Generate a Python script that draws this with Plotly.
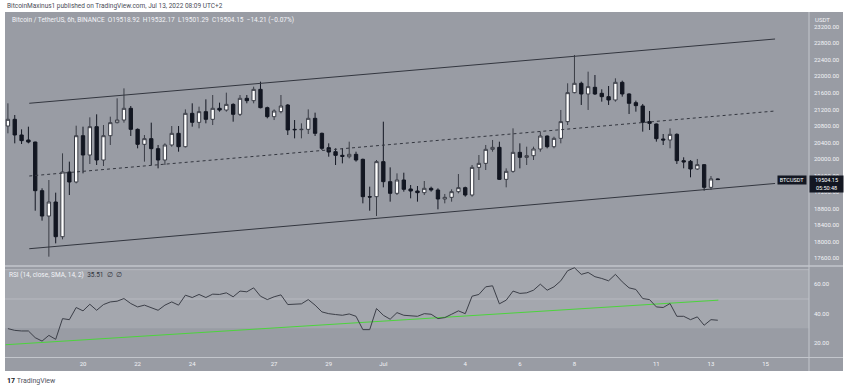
import plotly.graph_objects as go
import pandas as pd

# ---------------- data ----------------
times = pd.date_range("2022-06-17 06:00", periods=105, freq="6h")

opens = [20799, 20961, 20582, 20461, 20412, 19235, 18622, 18961, 18122, 19687,
         19445, 20565, 20098, 20783, 19977, 20565, 20880, 20944, 21227, 20719,
         20356, 20493, 20251, 19977, 20340, 20622, 20299, 21106, 20888, 21146,
         20961, 21227, 21186, 21323, 21082, 21469, 21412, 21686, 21243, 21025,
         21146, 21307, 20719, 20710, 20719, 20985, 20622, 20275, 20178, 20090,
         20057, 20114, 19993, 19090, 19090, 19937, 19453, 19171, 19493, 19276,
         19227, 19187, 19292, 19251, 19034, 19074, 19211, 19308, 19130, 19799,
         19896, 20235, 20283, 19509, 19703, 20162, 20041, 20081, 20243, 20557,
         20299, 20501, 20905, 21606, 21832, 21574, 21735, 21590, 21509, 21429,
         21856, 21574, 21364, 21284, 20905, 20848, 20485, 20461, 20598, 19961,
         19945, 19760, 19864, 19316, 19518.92]
highs = [21348, 21065, 20719, 20783, 20420, 19292, 19493, 19187, 20138, 19937,
         20807, 20783, 21009, 21082, 20823, 21025, 21469, 21710, 21283, 20740,
         20581, 20880, 20340, 20380, 20799, 20799, 21202, 21348, 21267, 21444,
         21549, 21364, 21606, 21348, 21549, 21549, 21751, 21872, 21267, 21202,
         21549, 21330, 20944, 20864, 21202, 21122, 20640, 20380, 20259, 20259,
         20420, 20178, 20010, 19332, 19977, 20904, 19799, 19654, 19670, 19372,
         19348, 19469, 19332, 19292, 19155, 19268, 19638, 19332, 19856, 20098,
         20340, 20461, 20420, 19775, 20743, 20380, 20299, 20299, 20662, 20570,
         20541, 21187, 21832, 22517, 21872, 22114, 22033, 21687, 21767, 21953,
         21896, 21590, 21413, 21332, 21163, 20860, 20606, 20743, 20622, 20042,
         19977, 20002, 19875, 19590, 19532.17]
lows = [20622, 20380, 20364, 20380, 18751, 18510, 17639, 17961, 18058, 19130,
        19412, 19654, 19880, 19856, 19832, 20340, 20864, 20880, 20558, 20259,
        19937, 19856, 19775, 19856, 20299, 20178, 20280, 20783, 20743, 20864,
        20823, 21146, 21146, 20904, 21041, 21348, 21348, 21227, 20985, 20944,
        21106, 20582, 20501, 20501, 20606, 20558, 20219, 20057, 19856, 19896,
        20017, 19937, 18929, 18751, 18622, 19316, 18969, 19130, 19211, 19050,
        18969, 19130, 19211, 18784, 18929, 18969, 19171, 19090, 19090, 19493,
        19735, 20178, 19493, 19316, 19670, 19775, 19856, 19977, 20178, 20259,
        20259, 20380, 20824, 21590, 21308, 21187, 21550, 21388, 21308, 21388,
        21509, 21090, 21146, 20663, 20703, 20421, 20340, 20260, 19881, 19776,
        19558, 19735, 19236, 19252, 19501.29]
closes = [20961, 20582, 20445, 20412, 19235, 18622, 18961, 18122, 19687, 19445,
          20565, 20098, 20783, 19977, 20565, 20880, 20944, 21227, 20719, 20356,
          20493, 20251, 19977, 20340, 20622, 20299, 21106, 20888, 21146, 20961,
          21227, 21186, 21323, 21082, 21469, 21412, 21686, 21243, 21025, 21162,
          21283, 20703, 20710, 20719, 20985, 20622, 20259, 20170, 20090, 20065,
          20114, 19977, 19090, 19082, 19937, 19453, 19171, 19493, 19268, 19227,
          19187, 19292, 19251, 19034, 19074, 19211, 19308, 19130, 19799, 19896,
          20235, 20283, 19509, 19703, 20162, 20041, 20081, 20243, 20557, 20299,
          20501, 20905, 21606, 21832, 21574, 21751, 21574, 21509, 21429, 21856,
          21574, 21348, 21292, 20888, 20864, 20493, 20461, 20598, 19961, 19929,
          19760, 19864, 19316, 19519, 19504.15]

rsi = [29.8, 28.6, 28.2, 28.2, 23.6, 21.3, 25.2, 22.5, 36.6, 35.9,
       44.2, 41.9, 46.4, 42.3, 46.2, 48.0, 48.5, 50.3, 46.9, 44.6,
       45.8, 44.2, 42.3, 45.8, 48.0, 45.8, 52.6, 51.0, 53.1, 51.0,
       53.3, 53.1, 54.2, 51.5, 55.4, 54.9, 57.6, 51.9, 49.6, 51.5,
       52.8, 46.2, 46.2, 46.7, 49.6, 45.8, 41.2, 40.0, 39.4, 38.9,
       39.8, 38.2, 29.1, 29.1, 43.5, 38.9, 36.2, 40.7, 38.9, 38.5,
       38.2, 40.0, 39.6, 36.6, 37.3, 39.6, 41.9, 40.0, 51.9, 53.1,
       58.3, 59.0, 46.7, 49.2, 55.4, 53.8, 54.2, 56.0, 60.1, 56.0,
       58.3, 62.4, 69.3, 71.3, 66.8, 68.1, 65.2, 64.0, 62.4, 66.8,
       61.7, 57.6, 56.5, 50.3, 49.6, 44.6, 44.2, 46.9, 38.2, 38.2,
       35.9, 37.8, 32.1, 35.9, 35.51]

# channel drawings (time, price)
chan_t = ["2022-06-18 00:45", "2022-07-15 08:20"]
chan_upper = [21349, 22904]
chan_mid = [19590, 21162]
chan_lower = [17831, 19409]

# RSI trend line drawing
rsi_tl_t = ["2022-06-17 04:00", "2022-07-13 06:30"]
rsi_tl_v = [18.8, 49.2]

price_ticks = [17600, 18000, 18400, 18800, 19200, 19600, 20000, 20400, 20800,
               21200, 21600, 22000, 22400, 22800, 23200]
price_tick_text = ["%.2f" % v for v in price_ticks]
rsi_ticks = [20, 40, 60]
rsi_tick_text = ["20.00", "40.00", "60.00"]
time_tick_vals = ["2022-06-20", "2022-06-22", "2022-06-24", "2022-06-27",
                  "2022-06-29", "2022-07-01", "2022-07-04", "2022-07-06",
                  "2022-07-08", "2022-07-11", "2022-07-13", "2022-07-15"]
time_tick_text = ["20", "22", "24", "27", "29", "Jul", "4", "6", "8", "11", "13", "15"]

# ---------------- layout helpers ----------------
W, H = 850, 390
def fx(px):
    return px / W
def fy(py):
    return 1 - py / H

FONT = "Roboto"
PANE = "#999ca4"
BAND = "#a4a7ae"
LINE_LIGHT = "#c3c6cc"
TXT = "#f2f3f7"

fig = go.Figure()

fig.add_trace(go.Candlestick(
    x=times, open=opens, high=highs, low=lows, close=closes,
    increasing=dict(line=dict(color="#3a3d46", width=1), fillcolor="#ffffff"),
    decreasing=dict(line=dict(color="#131722", width=1), fillcolor="#131722"),
    xaxis="x", yaxis="y", showlegend=False, hoverinfo="skip"))

for vals, dash in [(chan_upper, "solid"), (chan_mid, "3px,3px"), (chan_lower, "solid")]:
    fig.add_trace(go.Scatter(x=chan_t, y=vals, mode="lines",
                             line=dict(color="#33363f", width=1, dash=dash),
                             xaxis="x", yaxis="y", showlegend=False, hoverinfo="skip"))

fig.add_trace(go.Scatter(x=rsi_tl_t, y=rsi_tl_v, mode="lines",
                         line=dict(color="#4cd43c", width=1),
                         xaxis="x2", yaxis="y2", showlegend=False, hoverinfo="skip"))
fig.add_trace(go.Scatter(x=times, y=rsi, mode="lines",
                         line=dict(color="#3c3f48", width=1),
                         xaxis="x2", yaxis="y2", showlegend=False, hoverinfo="skip"))

x_range = ["2022-06-17 03:26", "2022-07-16 14:10"]

shapes = [
    dict(type="rect", xref="paper", yref="paper", x0=fx(5), x1=fx(843), y0=fy(371), y1=fy(12),
         fillcolor=PANE, line=dict(width=0), layer="below"),
    dict(type="rect", xref="paper", yref="y2", x0=fx(5), x1=fx(809), y0=30, y1=70,
         fillcolor=BAND, line=dict(width=0), layer="below"),
    dict(type="line", xref="paper", yref="y2", x0=fx(5), x1=fx(809), y0=70, y1=70,
         line=dict(color="#b7bac1", width=1), layer="below"),
    dict(type="line", xref="paper", yref="y2", x0=fx(5), x1=fx(809), y0=50, y1=50,
         line=dict(color="#b7bac1", width=1), layer="below"),
    dict(type="line", xref="paper", yref="paper", x0=fx(5), x1=fx(843), y0=fy(266), y1=fy(266),
         line=dict(color=LINE_LIGHT, width=1.5), layer="below"),
    dict(type="line", xref="paper", yref="paper", x0=fx(5), x1=fx(843), y0=fy(357.5), y1=fy(357.5),
         line=dict(color=LINE_LIGHT, width=1), layer="below"),
    dict(type="line", xref="paper", yref="paper", x0=fx(809), x1=fx(809), y0=fy(371), y1=fy(12),
         line=dict(color=LINE_LIGHT, width=1), layer="below"),
]

nb = "\u00a0"
annotations = [
    dict(text="BitcoinMaxinus1 published on TradingView.com, Jul 13, 2022 08:09 UTC+2",
         x=fx(5), y=fy(6), xref="paper", yref="paper", xanchor="left", yanchor="middle",
         showarrow=False, font=dict(family=FONT, size=6.5, color="#4a4d57")),
    dict(text=("Bitcoin / TetherUS, 6h, BINANCE" + nb * 2 + "O19518.92" + nb * 2 + "H19532.17" + nb * 2 +
               "L19501.29" + nb * 2 + "C19504.15" + nb * 2 + "\u221214.21 (\u22120.07%)"),
         x=fx(10), y=fy(20), xref="paper", yref="paper", xanchor="left", yanchor="middle",
         showarrow=False, font=dict(family=FONT, size=6.5, color=TXT)),
    dict(text=("RSI (14, close, SMA, 14, 2)" + nb * 2 +
               '<span style="color:#2f323b">35.51' + nb * 2 + "\u2205" + nb * 2 + "\u2205</span>"),
         x=fx(7), y=fy(275), xref="paper", yref="paper", xanchor="left", yanchor="middle",
         showarrow=False, font=dict(family=FONT, size=6.5, color=TXT)),
    dict(text="USDT", x=fx(813), y=fy(19), xref="paper", yref="paper", xanchor="left",
         yanchor="middle", showarrow=False, font=dict(family=FONT, size=6, color=TXT)),
    dict(text="BTCUSDT", x=fx(792), y=fy(180), xref="paper", yref="paper", xanchor="center",
         yanchor="middle", showarrow=False, bgcolor="#131722", width=28, height=8, borderpad=0,
         font=dict(family=FONT, size=5.5, color="#ffffff")),
    dict(text="19504.15<br>05:50:48", x=fx(826), y=fy(184), xref="paper", yref="paper",
         xanchor="center", yanchor="middle", showarrow=False, bgcolor="#131722",
         width=33, height=16, borderpad=0, align="center",
         font=dict(family=FONT, size=5.5, color="#ffffff")),
    dict(text='<b><span style="color:#131722">17</span></b>' + nb + "TradingView",
         x=fx(5), y=fy(381), xref="paper", yref="paper", xanchor="left", yanchor="middle",
         showarrow=False, font=dict(family=FONT, size=7, color="#50535e")),
]

fig.update_layout(
    width=W, height=H, margin=dict(l=0, r=0, t=0, b=0),
    paper_bgcolor="#ffffff", plot_bgcolor="rgba(0,0,0,0)",
    showlegend=False, shapes=shapes, annotations=annotations,
    xaxis=dict(domain=[fx(5), fx(809)], anchor="y", type="date", range=x_range,
               showticklabels=False, showgrid=False, zeroline=False, showline=False,
               rangeslider=dict(visible=False), ticks=""),
    xaxis2=dict(domain=[fx(5), fx(809)], anchor="y2", type="date", range=x_range, matches="x",
                tickmode="array", tickvals=time_tick_vals, ticktext=time_tick_text,
                tickfont=dict(family=FONT, size=6, color=TXT), showgrid=False, zeroline=False,
                showline=False, ticks="", ticklabelstandoff=1),
    yaxis=dict(domain=[fy(266), fy(12)], anchor="x", side="right", range=[17413, 23557],
               tickmode="array", tickvals=price_ticks, ticktext=price_tick_text,
               tickfont=dict(family=FONT, size=6, color=TXT), showgrid=False, zeroline=False,
               showline=False, ticks="", ticklabelstandoff=4),
    yaxis2=dict(domain=[fy(357.5), fy(266)], anchor="x2", side="right", range=[10.1, 72.5],
                tickmode="array", tickvals=rsi_ticks, ticktext=rsi_tick_text,
                tickfont=dict(family=FONT, size=6, color=TXT), showgrid=False, zeroline=False,
                showline=False, ticks="", ticklabelstandoff=4),
)

fig.write_html("out.html", config=dict(displayModeBar=False),
               post_script="document.body.style.margin='0';document.body.style.padding='0';")
